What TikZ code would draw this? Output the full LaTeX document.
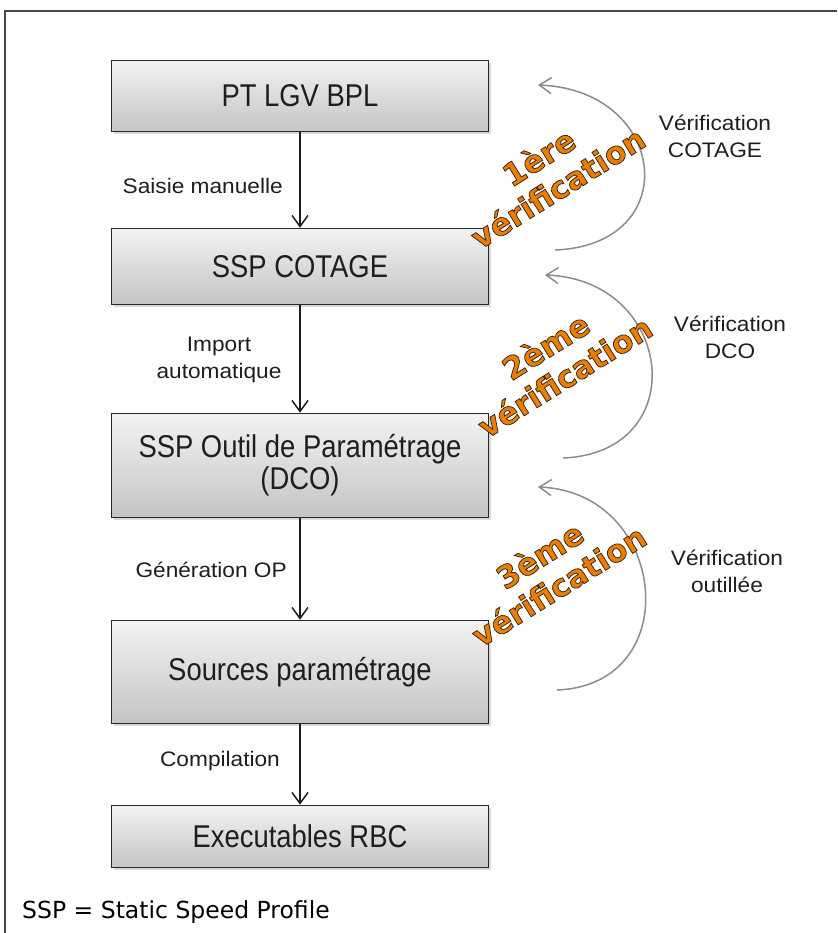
\documentclass[tikz,border=0pt]{standalone}
\usepackage{fontspec}
\setmainfont{Liberation Sans}
\newfontfamily\boxfont[FakeStretch=0.87]{Liberation Sans}
\newfontfamily\lblfont[FakeStretch=1.08]{Liberation Sans}
\newfontfamily\verfont[FakeBold=2.4]{DejaVu Sans Bold}
\newfontfamily\footfont{DejaVu Sans}
\usetikzlibrary{arrows.meta,shadows}

\definecolor{verorange}{RGB}{234,126,4}
\definecolor{boxtop}{RGB}{243,243,243}
\definecolor{boxbot}{RGB}{196,196,196}
\definecolor{boxedge}{RGB}{40,40,40}
\definecolor{textdark}{RGB}{30,30,30}
\definecolor{loopgray}{RGB}{140,140,140}
\definecolor{framegray}{RGB}{70,70,70}

% orange lettering with a dark outline: emboldened glyphs are stroked,
% so only the stroke colour is switched after the fill colour
\newcommand\otext[1]{{\color{verorange}\special{pdf:code 0.22 0.14 0.05 RG}#1}}

\tikzset{
  stepbox/.style={draw=boxedge, line width=1.6pt, top color=boxtop, bottom color=boxbot,
    minimum width=377pt, align=center, inner sep=0pt, text=textdark,
    font=\boxfont\fontsize{31.5}{32}\selectfont,
    drop shadow={shadow xshift=2.5pt, shadow yshift=-2.5pt, opacity=0.3}},
  flow/.style={draw=textdark, line width=1.5pt, -{Straight Barb[length=11pt,width=16pt]}},
  loopback/.style={draw=loopgray, line width=1.5pt, -{Straight Barb[length=12pt,width=16pt]}},
  lbl/.style={inner sep=0pt, text=textdark, font=\lblfont\fontsize{21}{27}\selectfont},
  vtext/.style={inner sep=0pt, rotate=32, align=center,
    font=\verfont\fontsize{31}{36}\selectfont},
  foot/.style={inner sep=0pt, text=black, font=\footfont\fontsize{23.5}{26}\selectfont},
  frameline/.style={draw=framegray, line width=1.4pt}
}

\begin{document}
\begin{tikzpicture}[x=1pt,y=-1pt]
\useasboundingbox (0,0) rectangle (837,933);

% page frame (top and left edges)
\draw[frameline] (837,11) -- (5,11) -- (5,933);

% process chain
\node[stepbox, minimum height=71pt]  (b1) at (300,96)    {PT LGV BPL};
\node[stepbox, minimum height=76pt]  (b2) at (300,266.5) {SSP COTAGE};
\node[stepbox, minimum height=104pt] (b3) at (300,465.5) {SSP Outil de Paramétrage\\(DCO)};
\node[stepbox, minimum height=103pt] (b4) at (300,672)   {Sources paramétrage};
\node[stepbox, minimum height=62pt]  (b5) at (300,836.5) {Executables RBC};

\draw[flow] (b1) -- (b2);
\draw[flow] (b2) -- (b3);
\draw[flow] (b3) -- (b4);
\draw[flow] (b4) -- (b5);

% step labels
\node[lbl, anchor=east] (l1) at (283,186) {Saisie manuelle};
\node[lbl, align=center] (l2) at (219,360) {Import\\automatique};
\node[lbl, anchor=east] (l3) at (287,570) {Génération OP};
\node[lbl] (l4) at (220,761) {Compilation};

% verification loops
\coordinate (s1) at (555,250); \coordinate (t1) at (538,85);
\coordinate (s2) at (563,458); \coordinate (t2) at (545,275);
\coordinate (s3) at (557,690); \coordinate (t3) at (538,487);
\draw[loopback] (s1) .. controls +(130,-5) and +(130,5) .. (t1);
\draw[loopback] (s2) .. controls +(130,-5) and +(130,5) .. (t2);
\draw[loopback] (s3) .. controls +(130,-5) and +(130,5) .. (t3);

\node[lbl, align=center] (v1) at (715,136) {Vérification\\COTAGE};
\node[lbl, align=center] (v2) at (730,337) {Vérification\\DCO};
\node[lbl, align=center] (v3) at (727,571) {Vérification\\outillée};

\node[vtext] (g1) at (548,172) {\otext{1ère}\\\otext{vérification}};
\node[vtext] (g2) at (555,361) {\otext{2ème}\\\otext{vérification}};
\node[vtext] (g3) at (549,570) {\otext{3ème}\\\otext{vérification}};

% legend
\node[foot, anchor=base west] (ft) at (22,918) {SSP = Static Speed Profile};
\end{tikzpicture}
\end{document}
